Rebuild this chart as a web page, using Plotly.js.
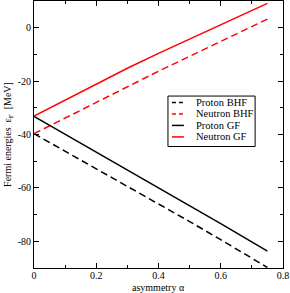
<!DOCTYPE html>
<html>
<head>
<meta charset="utf-8">
<script src="https://cdn.plot.ly/plotly-3.0.1.min.js"></script>
<style>html,body{margin:0;padding:0;background:#fff}#chart{width:290px;height:293px}</style>
</head>
<body>
<div id="chart"></div>
<script>
const alpha = [0, 0.2, 0.3, 0.4, 0.5, 0.6, 0.75];
const protonBHF = [-39.7, -52.8, -59.3, -65.9, -72.6, -79.4, -89.8];
const neutronBHF = [-39.7, -27.9, -22.0, -16.3, -10.7, -5.2, 3.2];
const protonGF = [-33.2, -46.5, -53.2, -59.9, -66.6, -73.4, -83.7];
const neutronGF = [-33.1, -21.0, -15.2, -9.6, -4.2, 1.1, 9.1];
const seriesNames = ["Proton BHF", "Neutron BHF", "Proton GF", "Neutron GF"];
const xTickVals = [0, 0.2, 0.4, 0.6, 0.8];
const xTickText = ["0", "0.2", "0.4", "0.6", "0.8"];
const yTickVals = [-80, -60, -40, -20, 0];
const yTickText = ["-80", "-60", "-40", "-20", "0"];

const font = {family: "Liberation Serif", size: 10, color: "#000"};
const legendFont = {family: "Liberation Serif", size: 10.5, color: "#000"};
const styles = [
  {color: "#000", width: 1.5, dash: "7px,4px"},
  {color: "#ff0000", width: 1.5, dash: "7px,4px"},
  {color: "#000", width: 1.5, dash: "solid"},
  {color: "#ff0000", width: 1.5, dash: "solid"}
];
const ys = [protonBHF, neutronBHF, protonGF, neutronGF];
const traces = ys.map((y, i) => ({x: alpha, y: y, name: seriesNames[i], mode: "lines", line: styles[i], showlegend: false}));

// custom compact legend (paper coords)
const shapes = [{type: "rect", xref: "paper", yref: "paper", x0: 0.538, x1: 0.888, y0: 0.455, y1: 0.644,
  line: {color: "#000", width: 1}, fillcolor: "#fff", layer: "above"}];
const annotations = [];
const rowY = [0.620, 0.577, 0.534, 0.491];
seriesNames.forEach((n, i) => {
  shapes.push({type: "line", xref: "paper", yref: "paper", x0: 0.554, x1: 0.602, y0: rowY[i], y1: rowY[i],
    line: {color: styles[i].color, width: 1.5, dash: styles[i].dash === "solid" ? "solid" : "4px,3px"}, layer: "above"});
  annotations.push({xref: "paper", yref: "paper", x: 0.645, y: rowY[i], xanchor: "left", yanchor: "middle",
    text: n, showarrow: false, font: legendFont, borderpad: 0});
});
annotations.push({xref: "paper", yref: "paper", x: 0.5, y: -0.072, xanchor: "center", yanchor: "middle",
  text: "asymmetry α", showarrow: false, font: font, borderpad: 0});

const axisCommon = {
  showline: true, linecolor: "#000", linewidth: 1, mirror: "allticks",
  ticks: "inside", ticklen: 5, tickcolor: "#000", tickwidth: 1,
  showgrid: false, zeroline: false, tickfont: font,
  minor: {ticks: "inside", ticklen: 3, tickcolor: "#000", tickwidth: 1, showgrid: false}
};
const layout = {
  width: 290, height: 293,
  margin: {l: 34, r: 7, t: 1, b: 25},
  paper_bgcolor: "#fff", plot_bgcolor: "#fff",
  font: font,
  showlegend: false,
  shapes: shapes,
  annotations: annotations,
  xaxis: Object.assign({}, axisCommon, {
    range: [0, 0.8001], tickvals: xTickVals, ticktext: xTickText, ticklabelstandoff: -2,
    minor: Object.assign({}, axisCommon.minor, {dtick: 0.1, tick0: 0})
  }),
  yaxis: Object.assign({}, axisCommon, {
    range: [-90, 10], tickvals: yTickVals, ticktext: yTickText,
    minor: Object.assign({}, axisCommon.minor, {dtick: 10, tick0: 0}),
    title: {text: "Fermi energies  ε<sub>F</sub>  [MeV]", font: font, standoff: 4}
  })
};
Plotly.newPlot("chart", traces, layout, {displayModeBar: false, staticPlot: true});
</script>
</body>
</html>
